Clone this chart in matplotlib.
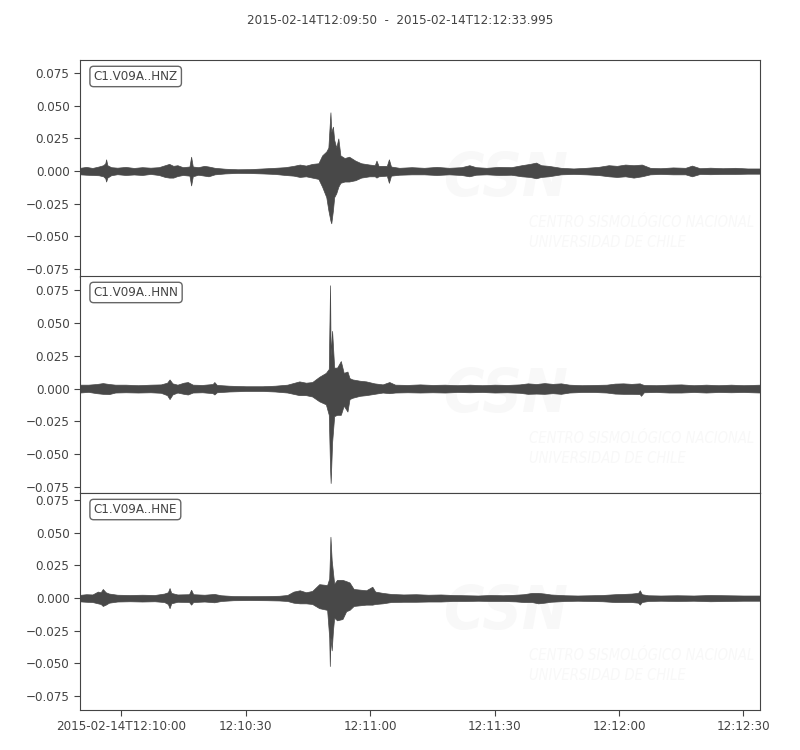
#!/usr/bin/env python3
"""
Three-component accelerogram plot, C1.V09A (HNZ / HNN / HNE).
Traces are drawn from amplitude envelopes read off the original picture.
"""

import matplotlib
matplotlib.use('Agg')
import matplotlib.pyplot as plt

plt.rcParams['font.family'] = ['DejaVu Sans']
plt.rcParams['font.stretch'] = 'condensed'

TITLE = '2015-02-14T12:09:50  -  2015-02-14T12:12:33.995'
DURATION = 163.995  # seconds after 12:09:50

# x ticks, seconds after start
XTICKS = [10, 40, 70, 100, 130, 160]
XTICK_LABELS = ['2015-02-14T12:10:00', '12:10:30', '12:11:00',
                '12:11:30', '12:12:00', '12:12:30']
YTICKS = [-0.075, -0.05, -0.025, 0.0, 0.025, 0.05, 0.075]

CHANNELS = ['C1.V09A..HNZ', 'C1.V09A..HNN', 'C1.V09A..HNE']

# envelopes: (time s, upper, lower)
HNZ = [
    (0, 0.0025, -0.0025), (1.5, 0.0032, -0.0028), (3, 0.0024, -0.0030),
    (4.5, 0.0035, -0.0032), (5.6, 0.0045, -0.0040), (6.1, 0.0060, -0.0055),
    (6.3, 0.0090, -0.0080), (6.6, 0.0045, -0.0050), (7.5, 0.0030, -0.0032),
    (9, 0.0026, -0.0024), (11, 0.0032, -0.0030), (13, 0.0024, -0.0026),
    (15, 0.0030, -0.0030), (17, 0.0026, -0.0022), (19, 0.0030, -0.0030),
    (20.5, 0.0045, -0.0045), (21.5, 0.0055, -0.0050), (22.5, 0.0040, -0.0050),
    (23.5, 0.0045, -0.0038), (24.8, 0.0030, -0.0030), (26.4, 0.0035, -0.0035),
    (26.8, 0.0110, -0.0110), (27.2, 0.0035, -0.0040), (28.5, 0.0030, -0.0028),
    (30, 0.0040, -0.0035), (31, 0.0035, -0.0040), (32.5, 0.0025, -0.0025),
    (35, 0.0018, -0.0018), (38, 0.0014, -0.0014), (41, 0.0015, -0.0015),
    (44, 0.0020, -0.0018), (47, 0.0025, -0.0022), (49.5, 0.0030, -0.0030),
    (51.5, 0.0040, -0.0035), (53, 0.0050, -0.0045), (54.5, 0.0042, -0.0040),
    (56, 0.0055, -0.0050), (57.5, 0.0060, -0.0060), (58.4, 0.0120, -0.0120),
    (59.4, 0.0150, -0.0200), (59.9, 0.0180, -0.0300), (60.4, 0.0450, -0.0380),
    (60.6, 0.0300, -0.0400), (61.0, 0.0340, -0.0300), (61.3, 0.0240, -0.0200),
    (61.8, 0.0180, -0.0170), (62.3, 0.0250, -0.0120), (62.8, 0.0120, -0.0090),
    (63.8, 0.0100, -0.0080), (64.9, 0.0110, -0.0080), (66.4, 0.0080, -0.0070),
    (67.8, 0.0060, -0.0050), (69.8, 0.0050, -0.0040), (71.1, 0.0045, -0.0040),
    (71.5, 0.0080, -0.0050), (72.0, 0.0040, -0.0040), (74.0, 0.0040, -0.0035),
    (74.5, 0.0090, -0.0090), (75.0, 0.0035, -0.0035), (77, 0.0025, -0.0028),
    (80, 0.0030, -0.0025), (83, 0.0025, -0.0025), (86, 0.0032, -0.0030),
    (89, 0.0025, -0.0025), (92, 0.0030, -0.0030), (93.9, 0.0045, -0.0040),
    (95.5, 0.0030, -0.0028), (98, 0.0025, -0.0025), (101, 0.0032, -0.0030),
    (104, 0.0030, -0.0028), (106.5, 0.0045, -0.0040), (108.5, 0.0055, -0.0045),
    (110, 0.0065, -0.0055), (111.2, 0.0045, -0.0045), (113, 0.0040, -0.0040),
    (116, 0.0025, -0.0025), (119, 0.0020, -0.0022), (122, 0.0025, -0.0025),
    (125, 0.0032, -0.0030), (127.5, 0.0045, -0.0040), (129.5, 0.0040, -0.0045),
    (131.5, 0.0050, -0.0040), (133.5, 0.0045, -0.0050), (135.5, 0.0050, -0.0040),
    (137.5, 0.0025, -0.0025), (140, 0.0022, -0.0022), (143, 0.0028, -0.0025),
    (146, 0.0025, -0.0025), (147.6, 0.0042, -0.0040), (149.5, 0.0022, -0.0022),
    (152, 0.0026, -0.0024), (155, 0.0022, -0.0022), (158, 0.0025, -0.0022),
    (161, 0.0020, -0.0020), (164, 0.0020, -0.0020),
]

HNN = [
    (0, 0.0030, -0.0030), (2, 0.0030, -0.0025), (4, 0.0035, -0.0035),
    (5.5, 0.0042, -0.0040), (7, 0.0035, -0.0042), (8.5, 0.0030, -0.0030),
    (11, 0.0030, -0.0028), (14, 0.0026, -0.0030), (17, 0.0030, -0.0028),
    (19.5, 0.0032, -0.0032), (21.0, 0.0045, -0.0050), (21.6, 0.0070, -0.0080),
    (22.3, 0.0040, -0.0045), (23.5, 0.0030, -0.0030), (25.0, 0.0045, -0.0040),
    (26.0, 0.0050, -0.0045), (27.2, 0.0030, -0.0030), (29.5, 0.0028, -0.0028),
    (32.0, 0.0035, -0.0035), (32.4, 0.0050, -0.0045), (33.0, 0.0028, -0.0028),
    (36, 0.0022, -0.0022), (40, 0.0018, -0.0018), (44, 0.0018, -0.0018),
    (47, 0.0022, -0.0022), (50, 0.0030, -0.0030), (52.9, 0.0055, -0.0050),
    (54.5, 0.0045, -0.0050), (56, 0.0050, -0.0060), (57.7, 0.0090, -0.0097),
    (59.3, 0.0120, -0.0120), (60.0, 0.0150, -0.0200), (60.3, 0.0788, -0.0600),
    (60.45, 0.0250, -0.0720), (60.8, 0.0440, -0.0410), (61.3, 0.0160, -0.0210),
    (62.0, 0.0160, -0.0200), (62.9, 0.0210, -0.0200), (63.6, 0.0120, -0.0130),
    (64.5, 0.0130, -0.0175), (65.0, 0.0080, -0.0080), (65.7, 0.0070, -0.0070),
    (67.5, 0.0060, -0.0055), (69.0, 0.0055, -0.0050), (71, 0.0040, -0.0040),
    (73, 0.0032, -0.0030), (74.6, 0.0050, -0.0035), (76, 0.0030, -0.0030),
    (79, 0.0028, -0.0028), (82, 0.0032, -0.0030), (85, 0.0028, -0.0028),
    (88, 0.0030, -0.0030), (91, 0.0026, -0.0026), (94, 0.0030, -0.0028),
    (97, 0.0026, -0.0026), (100, 0.0030, -0.0030), (103, 0.0028, -0.0028),
    (106, 0.0032, -0.0032), (108, 0.0040, -0.0040), (110, 0.0035, -0.0038),
    (112, 0.0042, -0.0040), (114, 0.0036, -0.0035), (116, 0.0040, -0.0040),
    (118, 0.0030, -0.0030), (121, 0.0026, -0.0026), (124, 0.0028, -0.0026),
    (127, 0.0030, -0.0030), (129, 0.0038, -0.0038), (131, 0.0040, -0.0040),
    (133, 0.0036, -0.0040), (135.0, 0.0040, -0.0042), (135.3, 0.0035, -0.0055),
    (136, 0.0028, -0.0028), (139, 0.0026, -0.0026), (142, 0.0030, -0.0030),
    (145, 0.0032, -0.0030), (148, 0.0026, -0.0026), (151, 0.0030, -0.0030),
    (154, 0.0026, -0.0026), (157, 0.0030, -0.0028), (160, 0.0026, -0.0026),
    (164, 0.0030, -0.0030),
]

HNE = [
    (0, 0.0025, -0.0025), (1.5, 0.0030, -0.0028), (3, 0.0028, -0.0030),
    (4.3, 0.0050, -0.0040), (5.0, 0.0045, -0.0045), (5.5, 0.0070, -0.0060),
    (6.2, 0.0045, -0.0050), (7.0, 0.0035, -0.0035), (9, 0.0026, -0.0026),
    (12, 0.0024, -0.0024), (15, 0.0026, -0.0026), (18, 0.0024, -0.0024),
    (20.3, 0.0035, -0.0030), (21.2, 0.0045, -0.0045), (21.6, 0.0077, -0.0077),
    (22.0, 0.0040, -0.0040), (23.5, 0.0028, -0.0028), (26.3, 0.0030, -0.0030),
    (26.8, 0.0064, -0.0050), (27.3, 0.0030, -0.0030), (30, 0.0026, -0.0026),
    (32.4, 0.0032, -0.0032), (34, 0.0022, -0.0022), (37, 0.0016, -0.0016),
    (41, 0.0015, -0.0015), (45, 0.0016, -0.0016), (48, 0.0018, -0.0018),
    (50, 0.0024, -0.0022), (51.5, 0.0050, -0.0035), (53, 0.0060, -0.0040),
    (54.5, 0.0045, -0.0040), (56, 0.0055, -0.0045), (57.7, 0.0107, -0.0077),
    (59.6, 0.0100, -0.0090), (60.1, 0.0150, -0.0300), (60.25, 0.0300, -0.0520),
    (60.4, 0.0470, -0.0300), (60.7, 0.0290, -0.0400), (61.0, 0.0200, -0.0250),
    (61.3, 0.0110, -0.0150), (62.0, 0.0140, -0.0170), (63.3, 0.0140, -0.0160),
    (64.2, 0.0130, -0.0100), (65.0, 0.0120, -0.0090), (66.0, 0.0070, -0.0060),
    (67.5, 0.0065, -0.0055), (69.0, 0.0060, -0.0050), (70.5, 0.0087, -0.0050),
    (71.2, 0.0050, -0.0045), (73, 0.0040, -0.0040), (75, 0.0032, -0.0030),
    (78, 0.0028, -0.0028), (81, 0.0030, -0.0028), (84, 0.0026, -0.0026),
    (87, 0.0028, -0.0026), (90, 0.0024, -0.0022), (93, 0.0022, -0.0022),
    (96, 0.0020, -0.0020), (99, 0.0024, -0.0022), (102, 0.0022, -0.0022),
    (105, 0.0026, -0.0025), (107, 0.0030, -0.0030), (109, 0.0040, -0.0030),
    (110.5, 0.0040, -0.0040), (112, 0.0035, -0.0035), (113.5, 0.0028, -0.0028),
    (117, 0.0022, -0.0022), (120, 0.0020, -0.0020), (123, 0.0022, -0.0022),
    (126, 0.0024, -0.0024), (129, 0.0030, -0.0030), (131, 0.0032, -0.0030),
    (133, 0.0035, -0.0030), (134.6, 0.0040, -0.0035), (135.0, 0.0060, -0.0050),
    (135.5, 0.0030, -0.0030), (137, 0.0022, -0.0022), (140, 0.0020, -0.0020),
    (144, 0.0022, -0.0022), (148, 0.0020, -0.0020), (152, 0.0024, -0.0024),
    (156, 0.0022, -0.0022), (160, 0.0020, -0.0020), (164, 0.0020, -0.0020),
]

# y limits per panel (each trace centred on its own mean)
YLIMS = [(-0.0811, 0.0849), (-0.0796, 0.0857), (-0.0857, 0.0803)]

TRACE_COLOR = '#484848'
AXIS_COLOR = '#444444'
MARK_COLOR = '#f8f8f8'
FONT_SIZE = 9.5


def draw_trace(ax, rows, ylim, label):
    t = [r[0] for r in rows]
    up = [r[1] for r in rows]
    lo = [r[2] for r in rows]
    ax.fill_between(t, lo, up, color=TRACE_COLOR, linewidth=0.5,
                    edgecolor=TRACE_COLOR)
    ax.set_xlim(0, DURATION)
    ax.set_ylim(*ylim)
    ax.set_yticks(YTICKS)
    ax.set_yticklabels([f'{v:.3f}'.replace('-', '\u2212') for v in YTICKS])
    ax.tick_params(axis='both', colors=AXIS_COLOR, labelsize=FONT_SIZE,
                   length=4, width=0.8, direction='out')
    for sp in ax.spines.values():
        sp.set_color(AXIS_COLOR)
        sp.set_linewidth(0.8)

    # faint CSN watermark
    ax.text(0.627, 0.45, 'CSN', transform=ax.transAxes, fontsize=44,
            fontweight='bold', style='italic', color=MARK_COLOR,
            ha='center', va='center', zorder=0)
    ax.text(0.66, 0.25, 'CENTRO SISMOL\u00d3GICO NACIONAL', transform=ax.transAxes,
            fontsize=10.5, style='italic', color=MARK_COLOR, ha='left',
            va='center', zorder=0)
    ax.text(0.66, 0.16, 'UNIVERSIDAD DE CHILE', transform=ax.transAxes,
            fontsize=10.5, style='italic', color=MARK_COLOR, ha='left',
            va='center', zorder=0)

    ax.text(0.02, 0.955, label, transform=ax.transAxes, fontsize=FONT_SIZE,
            color=AXIS_COLOR, ha='left', va='top',
            bbox=dict(boxstyle='round,pad=0.28', facecolor='white',
                      edgecolor='#666666', linewidth=1.0))


def main():
    fig = plt.figure(figsize=(8, 7.5), dpi=100)
    left, width = 0.1, 0.85
    bottoms = [0.6307, 0.3427, 0.0533]
    height = 0.289

    traces = [HNZ, HNN, HNE]

    axes = []
    for i, rows in enumerate(traces):
        ax = fig.add_axes([left, bottoms[i], width, height],
                          sharex=axes[0] if axes else None)
        draw_trace(ax, rows, YLIMS[i], CHANNELS[i])
        axes.append(ax)

    for ax in axes[:-1]:
        ax.tick_params(axis='x', bottom=False, labelbottom=False)
    axes[-1].set_xticks(XTICKS)
    axes[-1].set_xticklabels(XTICK_LABELS)

    fig.text(0.5, 0.973, TITLE, ha='center', va='center', fontsize=FONT_SIZE,
             color=AXIS_COLOR)

    plt.savefig('out.png', dpi=100)
    plt.close()


if __name__ == '__main__':
    main()
